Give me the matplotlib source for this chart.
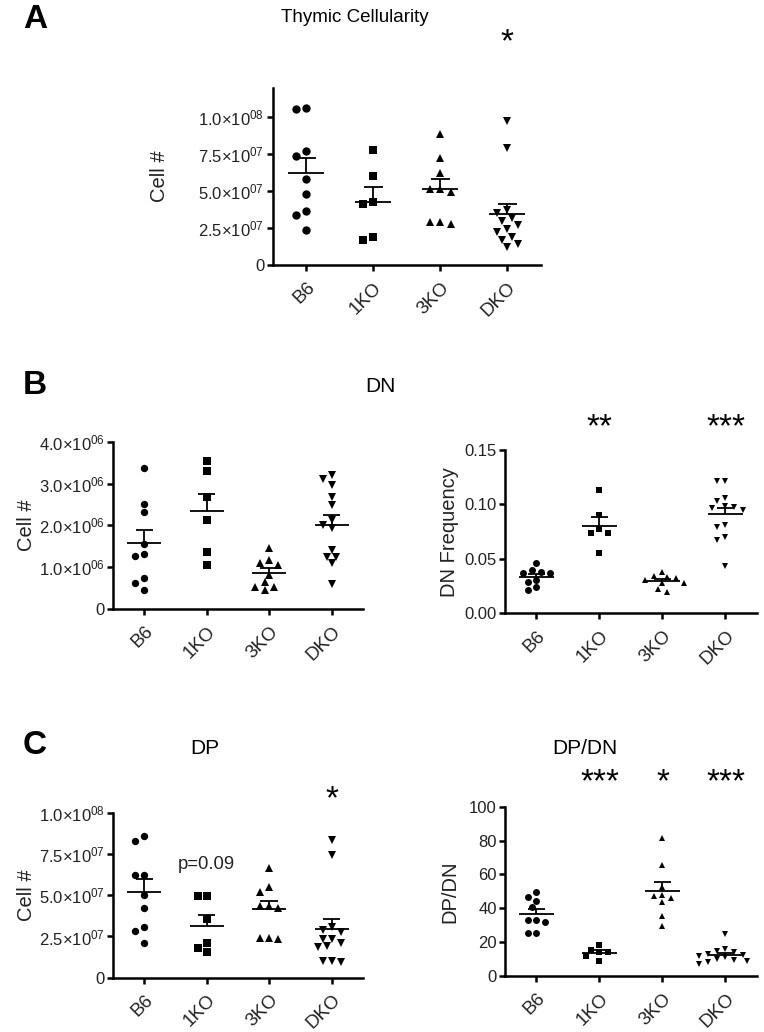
import numpy as np
import matplotlib
matplotlib.use('Agg')
import matplotlib.pyplot as plt

plt.rcParams['font.family'] = ['Liberation Sans', 'DejaVu Sans']
plt.rcParams['mathtext.default'] = 'regular'

groups = ['B6', '1KO', '3KO', 'DKO']
markers = ['o', 's', '^', 'v']

# Panel A - thymic cellularity (cells)
a_cells = [
    [1.063e8, 1.052e8, 0.77e8, 0.736e8, 0.579e8, 0.478e8, 0.365e8, 0.336e8, 0.236e8],
    [0.777e8, 0.601e8, 0.423e8, 0.412e8, 0.191e8, 0.167e8],
    [0.885e8, 0.72e8, 0.62e8, 0.511e8, 0.495e8, 0.511e8, 0.293e8, 0.277e8, 0.293e8],
    [0.97e8, 0.79e8, 0.37e8, 0.35e8, 0.32e8, 0.30e8, 0.27e8, 0.24e8, 0.22e8, 0.19e8, 0.17e8, 0.14e8, 0.12e8],
]
# Panel B - DN cell number
b_dn_cells = [
    [3.36e6, 2.52e6, 2.32e6, 1.55e6, 1.31e6, 1.26e6, 0.74e6, 0.61e6, 0.46e6],
    [3.55e6, 3.31e6, 2.67e6, 2.12e6, 1.37e6, 1.06e6],
    [1.46e6, 1.17e6, 1.09e6, 1.05e6, 0.81e6, 0.65e6, 0.53e6, 0.53e6, 0.46e6],
    [3.20e6, 3.12e6, 2.96e6, 2.67e6, 2.48e6, 2.12e6, 2.0e6, 1.93e6, 1.42e6, 1.25e6, 1.25e6, 1.10e6, 0.59e6],
]
# Panel B - DN frequency
b_dn_freq = [
    [0.046, 0.040, 0.038, 0.037, 0.037, 0.031, 0.029, 0.024, 0.021],
    [0.113, 0.090, 0.077, 0.074, 0.074, 0.055],
    [0.038, 0.034, 0.033, 0.032, 0.031, 0.028, 0.028, 0.022, 0.020],
    [0.1216, 0.1212, 0.106, 0.103, 0.099, 0.098, 0.097, 0.095, 0.081, 0.0796, 0.0699, 0.067, 0.0435],
]
# Panel C - DP cell number
c_dp_cells = [
    [0.861e8, 0.830e8, 0.624e8, 0.624e8, 0.501e8, 0.42e8, 0.309e8, 0.285e8, 0.212e8],
    [0.497e8, 0.497e8, 0.354e8, 0.212e8, 0.178e8, 0.158e8],
    [0.667e8, 0.548e8, 0.521e8, 0.435e8, 0.435e8, 0.42e8, 0.24e8, 0.239e8, 0.235e8],
    [0.835e8, 0.744e8, 0.309e8, 0.29e8, 0.279e8, 0.233e8, 0.233e8, 0.208e8, 0.192e8, 0.188e8, 0.101e8, 0.099e8, 0.095e8],
]
# Panel C - DP/DN ratio
c_ratio = [
    [49.8, 46.8, 44.3, 40.9, 33.1, 33.1, 32.1, 25.6, 25.6],
    [18.5, 15.5, 14.0, 14.0, 12.0, 9.0],
    [81.7, 65.6, 52.8, 47.8, 47.4, 46.2, 43.5, 35.6, 29.7],
    [24.8, 16.0, 15.0, 14.0, 13.0, 12.5, 12.0, 11.0, 10.0, 9.5, 9.0, 8.0, 7.0],
]

sci_07 = ['0', '2.5×10$^{07}$', '5.0×10$^{07}$', '7.5×10$^{07}$', '1.0×10$^{08}$']
sci_06 = ['0', '1.0×10$^{06}$', '2.0×10$^{06}$', '3.0×10$^{06}$', '4.0×10$^{06}$']

W, H = 764, 1032
fig = plt.figure(figsize=(W / 100, H / 100), dpi=100)
TXT = '#222222'


def spread(vals, ytop, height_px, unit_px, diam_px):
    """Beeswarm offsets (in x units) so that markers do not sit on each other"""
    vals = np.asarray(vals, dtype=float)
    ypx = vals / ytop * height_px
    offs = np.zeros(len(vals))
    placed = []
    half = diam_px / 2
    cands = [0]
    for k in range(1, 12):
        cands += [-k * half, k * half]
    for i in np.argsort(-vals):
        for c in cands:
            if all((c - px) ** 2 + (ypx[i] - py) ** 2 >= (diam_px * 0.8) ** 2 for px, py in placed):
                break
        placed.append((c, ypx[i]))
        offs[i] = c / unit_px
    return offs


def panel(rect, data, ytop, yticks, yticklabels, ylabel, ms, label_x):
    ax = fig.add_axes(rect)
    height_px = rect[3] * H
    unit_px = rect[2] * W / 4
    for i, (vals, m) in enumerate(zip(data, markers)):
        x = i + 1
        vals = np.asarray(vals)
        offs = spread(vals, ytop, height_px, unit_px, ms * 1.25 * 100 / 72)
        ax.plot(x + offs, vals, ls='none', marker=m, ms=ms, color='black', mew=0)
        mean = vals.mean()
        sem = vals.std(ddof=1) / np.sqrt(len(vals))
        ax.hlines(mean, x - 0.27, x + 0.27, color='black', lw=1.3)
        ax.vlines(x, mean, mean + sem, color='black', lw=1.3)
        ax.hlines(mean + sem, x - 0.14, x + 0.14, color='black', lw=1.3)
    ax.set_xlim(0.5, 4.5)
    ax.set_ylim(0, ytop)
    ax.set_xticks(range(1, 5))
    ax.set_xticklabels(groups, rotation=45, ha='right', rotation_mode='anchor',
                       fontsize=13.5, color=TXT)
    ax.set_yticks(yticks)
    ax.set_yticklabels(yticklabels, fontsize=12, color=TXT)
    for s in ['top', 'right']:
        ax.spines[s].set_visible(False)
    for s in ['left', 'bottom']:
        ax.spines[s].set_linewidth(1.8)
    ax.tick_params(direction='out', length=4, width=1.8, pad=2)
    ax.tick_params(axis='x', pad=6)
    ax.set_ylabel(ylabel, fontsize=14.5, color=TXT)
    ax.yaxis.set_label_coords(label_x, 0.5)
    return ax


def star(ax, x, y, s):
    ax.text(x, y, s, ha='center', va='center', fontsize=24, color='black', clip_on=False)


# Panel A
axA = panel([272.7 / W, 1 - 265 / H, 268 / W, 177 / H], a_cells, 1.196e8,
            [0, 2.5e7, 5e7, 7.5e7, 1e8], sci_07, 'Cell #', 6, -0.387)
star(axA, 4, 1.50e8, '*')

# Panel B
axB1 = panel([113 / W, 1 - 609 / H, 250 / W, 167.3 / H], b_dn_cells, 4e6,
             [0, 1e6, 2e6, 3e6, 4e6], sci_06, 'Cell #', 5.3, -0.31)
axB2 = panel([505 / W, 1 - 613.3 / H, 252 / W, 163.3 / H], b_dn_freq, 0.15,
             [0, 0.05, 0.10, 0.15], ['0.00', '0.05', '0.10', '0.15'], 'DN Frequency', 5.0, -0.183)
star(axB2, 2, 0.170, '**')
star(axB2, 4, 0.170, '***')

# Panel C
axC1 = panel([113 / W, 1 - 977.7 / H, 250 / W, 165 / H], c_dp_cells, 1e8,
             [0, 2.5e7, 5e7, 7.5e7, 1e8], sci_07, 'Cell #', 5.3, -0.31)
star(axC1, 4, 1.08e8, '*')
axC1.text(2, 0.685e8, 'p=0.09', ha='center', va='center', fontsize=13.3, color=TXT)
axC2 = panel([505 / W, 1 - 976 / H, 252 / W, 169.3 / H], c_ratio, 100,
             [0, 20, 40, 60, 80, 100], ['0', '20', '40', '60', '80', '100'], 'DP/DN', 5.0, -0.183)
star(axC2, 2, 114, '***')
star(axC2, 3, 114, '*')
star(axC2, 4, 114, '***')

# Panel letters and titles
for letter, yy in [('A', 20), ('B', 385), ('C', 745)]:
    fig.text(35 / W, 1 - yy / H, letter, fontsize=24, fontweight='bold', ha='center', va='center')
fig.text(355 / W, 1 - 17 / H, 'Thymic Cellularity', fontsize=13.5, ha='center', va='center')
fig.text(380 / W, 1 - 387 / H, 'DN', fontsize=15, ha='center', va='center')
fig.text(205 / W, 1 - 748 / H, 'DP', fontsize=15, ha='center', va='center')
fig.text(585 / W, 1 - 748 / H, 'DP/DN', fontsize=15, ha='center', va='center')

fig.savefig('out.png', dpi=100)
